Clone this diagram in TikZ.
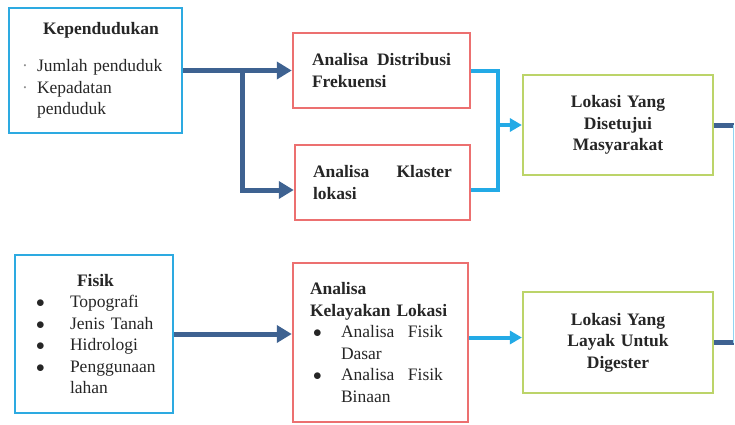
\documentclass[tikz,border=0pt]{standalone}
\usepackage{fontspec}
\setmainfont{LiberationSerif}[Extension=.ttf,UprightFont=*-Regular,BoldFont=*-Bold,ItalicFont=*-Italic,BoldItalicFont=*-BoldItalic]
\usetikzlibrary{arrows.meta}
\definecolor{inblue}{RGB}{45,170,225}
\definecolor{anred}{RGB}{236,112,112}
\definecolor{okgreen}{RGB}{188,212,105}
\definecolor{flowdark}{RGB}{62,98,145}
\definecolor{flowlight}{RGB}{35,170,230}
\newcommand{\smalldot}{\makebox[15pt][l]{\textcolor{black!45}{·}}}
\newcommand{\bigdot}[1]{\makebox[#1][l]{\hspace{3pt}$\bullet$}}
\begin{document}
\begin{tikzpicture}[x=1pt,y=-1pt,
        every node/.style={font=\fontsize{17.5}{21.5}\selectfont,text=black!85},
        inbox/.style={draw=inblue,line width=2.5pt,align=left},
        anbox/.style={draw=anred,line width=2.5pt,align=left},
        okbox/.style={draw=okgreen,line width=2.2pt,align=center,minimum width=190pt,text width=170pt,
            font=\fontsize{17.5}{21.5}\selectfont\bfseries},
        darkflow/.style={draw=flowdark,line width=5pt},
        lightflow/.style={draw=flowlight,line width=4pt}]
    \useasboundingbox (0,0) rectangle (735,424);
    \node (kep) [inbox,minimum width=173pt,minimum height=125pt,inner xsep=13pt,text width=147pt] at (95.5,70.5)
        {\hspace*{21pt}\textbf{Kependudukan}\\[16pt]
         \smalldot Jumlah penduduk\\
         \smalldot Kepadatan\\
         \hspace*{15pt}penduduk};
    \node (fisik) [inbox,minimum width=158pt,minimum height=158pt,inner xsep=18pt,text width=122pt] at (94,334)
        {\hspace*{44pt}\textbf{Fisik}\\
         \bigdot{37pt}Topografi\\
         \bigdot{37pt}Jenis Tanah\\
         \bigdot{37pt}Hidrologi\\
         \bigdot{37pt}Penggunaan\\
         \hspace*{37pt}lahan};
    \node (dist) [anbox,minimum width=177pt,minimum height=75pt,inner xsep=19pt,text width=139pt] at (381.5,70.5)
        {\textbf{Analisa\hfill Distribusi}\\ \textbf{Frekuensi}};
    \node (klas) [anbox,minimum width=175pt,minimum height=75pt,inner xsep=18pt,text width=139pt] at (382.5,182.5)
        {\textbf{Analisa\hfill Klaster}\\ \textbf{lokasi}};
    \node (kel) [anbox,minimum width=175pt,minimum height=159pt,inner xsep=17pt,text width=141pt] at (380.5,342.5)
        {\textbf{Analisa}\\
         \textbf{Kelayakan Lokasi}\\
         \bigdot{31pt}\makebox[102pt][l]{Analisa\hfill Fisik}\\
         \hspace*{31pt}Dasar\\
         \bigdot{31pt}\makebox[102pt][l]{Analisa\hfill Fisik}\\
         \hspace*{31pt}Binaan\\[4pt]};
    \node (setuju) [okbox,minimum height=100pt] at (618,125) {Lokasi Yang\\ Disetujui\\ Masyarakat\\[4pt]};
    \node (layak) [okbox,minimum height=101pt] at (618,342.5) {Lokasi Yang\\ Layak Untuk\\ Digester\\[4pt]};
    \coordinate (split) at (242,70.5);
    \coordinate (merge) at (498,125);
    \coordinate (rtop) at (733.5,125);
    \coordinate (rbot) at (733.5,342.5);
    \draw[darkflow,-{Triangle[length=15pt,width=17pt]}] (kep.east) -- (dist.west);
    \draw[darkflow,-{Triangle[length=15pt,width=17pt]}] (split) |- ([yshift=-7.5pt]klas.west);
    \draw[darkflow,-{Triangle[length=15pt,width=17pt]}] (fisik.east) -- (fisik.east -| kel.west);
    \draw[lightflow] (dist.east) -| (merge) |- ([yshift=-7.5pt]klas.east);
    \draw[lightflow,-{Triangle[length=12pt,width=13pt]}] (merge) -- (setuju.west);
    \draw[lightflow,-{Triangle[length=12pt,width=13pt]}] ([yshift=5pt]kel.east) -- ([yshift=5pt]layak.west);
    \draw[darkflow] (setuju.east) -- (rtop);
    \draw[darkflow] (layak.east) -- (rbot);
    \draw[draw=flowlight!50,line width=1pt] (rtop) -- (rbot);
\end{tikzpicture}
\end{document}
